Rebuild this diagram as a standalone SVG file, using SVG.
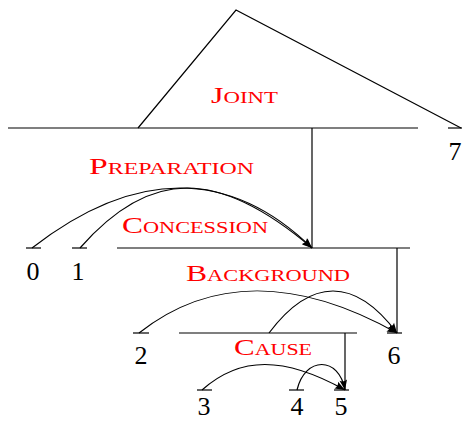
<svg xmlns="http://www.w3.org/2000/svg" width="462" height="421" viewBox="0 0 462 421">
  <style>
    .ln { stroke: #000; stroke-width: 1.2; fill: none; }
    .arc { stroke: #000; stroke-width: 1.2; fill: none; marker-end: url(#arr); }
    .num { font-family: "Liberation Serif", "Times New Roman", serif; font-size: 26px; fill: #000; text-anchor: middle; }
    .rel { font-family: "Liberation Serif", "Times New Roman", serif; font-size: 24px; fill: #ff0000; font-variant: small-caps; }
  </style>
  <defs>
    <marker id="arr" markerUnits="userSpaceOnUse" viewBox="-11 -5 12 10" refX="0" refY="0" markerWidth="12" markerHeight="10" orient="auto">
      <path d="M0,0 L-10,-3.8 Q-7.5,0 -10,3.8 Z" fill="#000"/>
    </marker>
  </defs>

  <g id="joint">
    <path class="ln" d="M138,128 L236,10 L461,128"/>
    <line class="ln" x1="8" y1="128" x2="418" y2="128"/>
    <text class="rel" x="211" y="103" textLength="67" lengthAdjust="spacingAndGlyphs">Joint</text>
  </g>

  <g id="preparation">
    <text class="rel" x="89" y="174" textLength="165" lengthAdjust="spacingAndGlyphs">Preparation</text>
  </g>

  <g id="concession">
    <line class="ln" x1="117" y1="248" x2="410" y2="248"/>
    <text class="rel" x="122" y="233" textLength="146" lengthAdjust="spacingAndGlyphs">Concession</text>
  </g>

  <g id="background">
    <text class="rel" x="186" y="281" textLength="164" lengthAdjust="spacingAndGlyphs">Background</text>
  </g>

  <g id="cause">
    <line class="ln" x1="179" y1="333" x2="357" y2="333"/>
    <text class="rel" x="234" y="355" textLength="78" lengthAdjust="spacingAndGlyphs">Cause</text>
  </g>

  <g id="n0">
    <line class="ln" x1="26" y1="248" x2="41" y2="248"/>
    <text class="num" x="33" y="280">0</text>
  </g>
  <g id="n1">
    <line class="ln" x1="72" y1="248" x2="87" y2="248"/>
    <text class="num" x="78" y="280">1</text>
  </g>
  <g id="n2">
    <line class="ln" x1="133" y1="333" x2="149" y2="333"/>
    <text class="num" x="141" y="364">2</text>
  </g>
  <g id="n3">
    <line class="ln" x1="197" y1="390" x2="212" y2="390"/>
    <text class="num" x="204" y="415">3</text>
  </g>
  <g id="n4">
    <line class="ln" x1="289" y1="390" x2="304" y2="390"/>
    <text class="num" x="297" y="415">4</text>
  </g>
  <g id="n5">
    <line class="ln" x1="334" y1="390" x2="349" y2="390"/>
    <text class="num" x="341" y="415">5</text>
  </g>
  <g id="n6">
    <line class="ln" x1="387" y1="333" x2="402" y2="333"/>
    <text class="num" x="394" y="364">6</text>
  </g>
  <g id="n7">
    <line class="ln" x1="448" y1="128" x2="462" y2="128"/>
    <text class="num" x="455" y="160">7</text>
  </g>

  <g id="connectors">
    <line class="ln" x1="312" y1="128" x2="312" y2="248"/>
    <line class="ln" x1="397" y1="248" x2="397" y2="333"/>
    <line class="ln" x1="345" y1="333" x2="345" y2="390"/>
    <path class="arc" d="M32,248 C135,168 230,168 312,248"/>
    <path class="arc" d="M80,248 C150,168 218,168 312,248"/>
    <path class="arc" d="M139,333 C210,277 297,277 397,333"/>
    <path class="arc" d="M269,333 C311,277 355,277 397,333"/>
    <path class="arc" d="M202,390 C240,356 284,356 345,390"/>
    <path class="arc" d="M297,390 C305,356 339,356 345,390"/>
  </g>
</svg>
